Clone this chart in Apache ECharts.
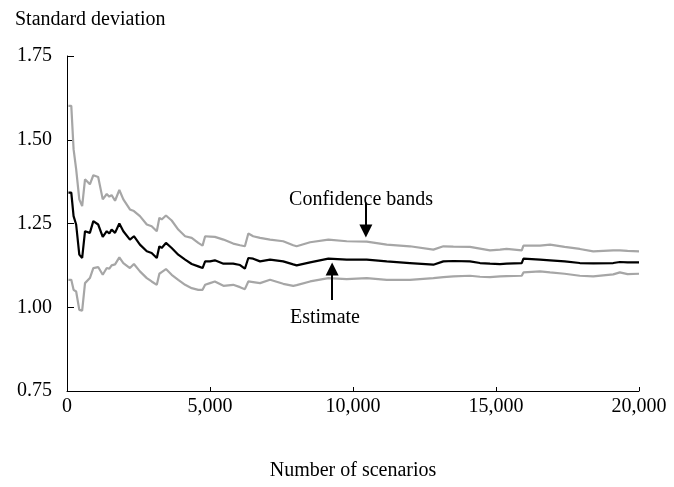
<!DOCTYPE html>
<html>
<head>
<meta charset="utf-8">
<script src="https://cdn.jsdelivr.net/npm/echarts@6/dist/echarts.min.js"></script>
<style>html,body{margin:0;padding:0;background:#fff}#c{width:674px;height:487px}</style>
</head>
<body>
<div id="c"></div>
<script>
var scenarios = [50,150,230,320,430,530,630,800,920,1090,1250,1390,1480,1560,1680,1830,1970,2200,2340,2550,2790,2960,3140,3230,3310,3460,3660,3890,4130,4360,4590,4740,4830,5000,5170,5470,5810,6050,6220,6340,6510,6750,7100,7560,7910,8030,8500,9140,9780,10480,11180,11990,12810,13160,13510,14090,14440,14790,15140,15370,15900,15960,16540,16890,17400,17930,18400,19100,19330,19600,20000];
var estimate = [1.342,1.342,1.272,1.247,1.157,1.147,1.227,1.222,1.257,1.247,1.210,1.227,1.220,1.232,1.222,1.250,1.227,1.202,1.212,1.187,1.167,1.162,1.147,1.182,1.177,1.192,1.177,1.157,1.142,1.129,1.122,1.117,1.137,1.137,1.140,1.130,1.130,1.126,1.115,1.147,1.145,1.137,1.142,1.137,1.128,1.125,1.134,1.145,1.142,1.142,1.137,1.132,1.127,1.137,1.138,1.137,1.132,1.130,1.129,1.130,1.132,1.145,1.142,1.140,1.137,1.132,1.131,1.132,1.135,1.134,1.134];
var upperBand = [1.601,1.601,1.472,1.412,1.322,1.302,1.382,1.367,1.394,1.389,1.322,1.338,1.330,1.335,1.318,1.350,1.322,1.292,1.287,1.272,1.247,1.242,1.227,1.267,1.262,1.274,1.259,1.232,1.212,1.207,1.192,1.184,1.212,1.211,1.210,1.202,1.190,1.185,1.182,1.220,1.212,1.207,1.202,1.197,1.185,1.182,1.194,1.202,1.197,1.196,1.187,1.182,1.172,1.182,1.181,1.180,1.175,1.170,1.172,1.174,1.170,1.184,1.184,1.187,1.180,1.174,1.167,1.170,1.170,1.168,1.167];
var lowerBand = [1.082,1.082,1.052,1.047,0.992,0.990,1.072,1.087,1.117,1.120,1.097,1.117,1.115,1.125,1.128,1.149,1.132,1.117,1.129,1.107,1.087,1.077,1.067,1.100,1.105,1.114,1.097,1.082,1.067,1.057,1.052,1.052,1.067,1.072,1.077,1.064,1.067,1.060,1.054,1.077,1.075,1.072,1.082,1.070,1.064,1.066,1.077,1.087,1.084,1.087,1.082,1.082,1.087,1.090,1.092,1.094,1.091,1.090,1.092,1.093,1.094,1.104,1.107,1.104,1.100,1.094,1.092,1.098,1.104,1.099,1.100];
var yTicks = [0.75, 1.00, 1.25, 1.50, 1.75];
var xTicks = [0, 5000, 10000, 15000, 20000];
// annotations (data coordinates)
var confLabel = {text: 'Confidence bands', at: [10280, 1.322]};
var confArrow = {from: [10450, 1.313], to: [10450, 1.2275]};
var estLabel = {text: 'Estimate', at: [9020, 0.969]};
var estArrow = {from: [9270, 1.022], to: [9270, 1.114]};

function zip(xs, ys){ return xs.map(function(x,i){ return [x, ys[i]]; }); }
var FONT = 'Liberation Serif';
var chart = echarts.init(document.getElementById('c'), null, {renderer:'canvas'});
chart.setOption({
  animation: false,
  backgroundColor: '#fff',
  textStyle: {fontFamily: FONT},
  title: {text: 'Standard deviation', left: 10, top: 5,
    textStyle: {fontFamily: FONT, fontSize: 20, fontWeight: 'normal', color: '#000'}},
  grid: {left: 67, right: 35, top: 56, bottom: 96, containLabel: false},
  xAxis: {
    type: 'value', min: xTicks[0], max: xTicks[xTicks.length-1], interval: 5000,
    name: 'Number of scenarios', nameLocation: 'middle', nameGap: 70,
    nameTextStyle: {fontFamily: FONT, fontSize: 20, color: '#000'},
    axisLine: {show: true, lineStyle: {color: '#000', width: 1}},
    axisTick: {show: true, inside: true, length: 4, lineStyle: {color: '#000'}},
    axisLabel: {fontFamily: FONT, fontSize: 20, color: '#000', margin: 6,
      formatter: function(v){ return v.toLocaleString('en-US'); }},
    splitLine: {show: false}
  },
  yAxis: {
    type: 'value', min: yTicks[0], max: yTicks[yTicks.length-1], interval: 0.25,
    axisLine: {show: true, lineStyle: {color: '#000', width: 1}},
    axisTick: {show: true, inside: true, length: 7, lineStyle: {color: '#000'}},
    axisLabel: {fontFamily: FONT, fontSize: 20, color: '#000', margin: 15,
      formatter: function(v){ return v.toFixed(2); }},
    splitLine: {show: false}
  },
  series: [
    {type: 'line', name: 'Upper', data: zip(scenarios, upperBand), showSymbol: false,
     lineStyle: {color: '#a6a6a6', width: 2.2}, z: 2},
    {type: 'line', name: 'Lower', data: zip(scenarios, lowerBand), showSymbol: false,
     lineStyle: {color: '#a6a6a6', width: 2.2}, z: 2},
    {type: 'line', name: 'Estimate', data: zip(scenarios, estimate), showSymbol: false,
     lineStyle: {color: '#000', width: 2.2}, z: 3,
     markLine: {
       silent: true, symbol: ['none', 'triangle'], symbolSize: 13,
       lineStyle: {color: '#000', width: 2, type: 'solid'},
       itemStyle: {color: '#000'},
       label: {show: false},
       data: [
         [{coord: confArrow.from}, {coord: confArrow.to}],
         [{coord: estArrow.from}, {coord: estArrow.to}]
       ]
     },
     markPoint: {
       silent: true, symbol: 'rect', symbolSize: 1,
       itemStyle: {color: 'rgba(0,0,0,0)'},
       label: {show: true, position: 'inside', fontFamily: FONT, fontSize: 20, color: '#000',
         formatter: function(p){ return p.name; }},
       data: [
         {name: confLabel.text, coord: confLabel.at},
         {name: estLabel.text, coord: estLabel.at}
       ]
     }
    }
  ]
});
</script>
</body>
</html>
